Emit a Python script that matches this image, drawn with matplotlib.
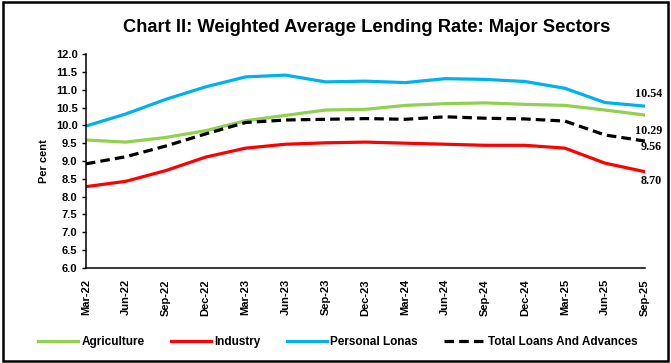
import matplotlib
matplotlib.use("Agg")
import matplotlib.pyplot as plt
from matplotlib.patches import Rectangle
import numpy as np

# quarterly observations
quarters = ["Mar-22", "Jun-22", "Sep-22", "Dec-22", "Mar-23", "Jun-23", "Sep-23",
            "Dec-23", "Mar-24", "Jun-24", "Sep-24", "Dec-24", "Mar-25", "Jun-25", "Sep-25"]
agriculture = [9.59, 9.53, 9.66, 9.85, 10.13, 10.28, 10.43, 10.45, 10.56, 10.61,
               10.63, 10.59, 10.56, 10.43, 10.29]
industry = [8.28, 8.43, 8.73, 9.11, 9.36, 9.47, 9.51, 9.53, 9.50, 9.47,
            9.44, 9.44, 9.36, 8.94, 8.70]
personal = [9.98, 10.32, 10.73, 11.08, 11.36, 11.41, 11.22, 11.24, 11.20, 11.31,
            11.29, 11.23, 11.04, 10.64, 10.54]
total = [8.92, 9.12, 9.42, 9.76, 10.08, 10.15, 10.17, 10.19, 10.17, 10.24,
         10.20, 10.18, 10.12, 9.73, 9.56]

sans = ["Liberation Sans", "DejaVu Sans"]
plt.rcParams["font.family"] = sans

fig = plt.figure(figsize=(6.71, 3.63), dpi=100)
fig.patches.append(Rectangle((0.004, 0.006), 0.992, 0.988, transform=fig.transFigure,
                             fill=False, edgecolor="black", linewidth=1.8))

ax = fig.add_axes([0.128, 0.262, 0.833, 0.589])
x = np.arange(len(quarters))

ax.plot(x, agriculture, color="#92D050", lw=2.3, label="Agriculture")
ax.plot(x, industry, color="#FF0000", lw=2.3, label="Industry")
ax.plot(x, personal, color="#00B0F0", lw=2.3, label="Personal Lonas")
ax.plot(x, total, color="black", lw=2.3, ls=(0, (3, 1.6)), label="Total Loans And Advances")

ax.set_xlim(0, len(quarters) - 1)
ax.set_ylim(6.0, 12.0)
ax.set_yticks(np.arange(6.0, 12.01, 0.5))
ax.set_yticklabels([f"{v:.1f}" for v in np.arange(6.0, 12.01, 0.5)],
                   fontsize=8, fontweight="bold")
ax.set_xticks(x)
ax.set_xticklabels(quarters, rotation=90, fontsize=8, fontweight="bold")
ax.tick_params(axis="x", length=0, pad=8)
ax.tick_params(axis="y", length=3, width=1, direction="out", pad=3)
for s in ["top", "right"]:
    ax.spines[s].set_visible(False)
for s in ["left", "bottom"]:
    ax.spines[s].set_linewidth(1.1)
ax.set_ylabel("Per cent", fontsize=8, fontweight="bold", labelpad=5)

# end-point labels
serif = ["Liberation Serif", "DejaVu Serif"]
last = len(quarters) - 1
ends = [(personal[-1], 8.6), (agriculture[-1], -11.3), (total[-1], -4.3), (industry[-1], -6.8)]
for val, dy in ends:
    ax.annotate(f"{val:.2f}", (last, val), xytext=(12.5, dy),
                textcoords="offset points", ha="right", va="center",
                fontsize=8.7, fontweight="bold", family=serif, annotation_clip=False)

fig.text(0.547, 0.925, "Chart II: Weighted Average Lending Rate: Major Sectors",
         ha="center", va="center", fontsize=13.2, fontweight="bold")

fig.legend(loc="center", bbox_to_anchor=(0.503, 0.058), ncol=4, frameon=False,
           prop={"size": 8.5, "weight": "bold"}, handlelength=3.4,
           columnspacing=2.2, handletextpad=0.3)

fig.savefig("out.png", dpi=100)
